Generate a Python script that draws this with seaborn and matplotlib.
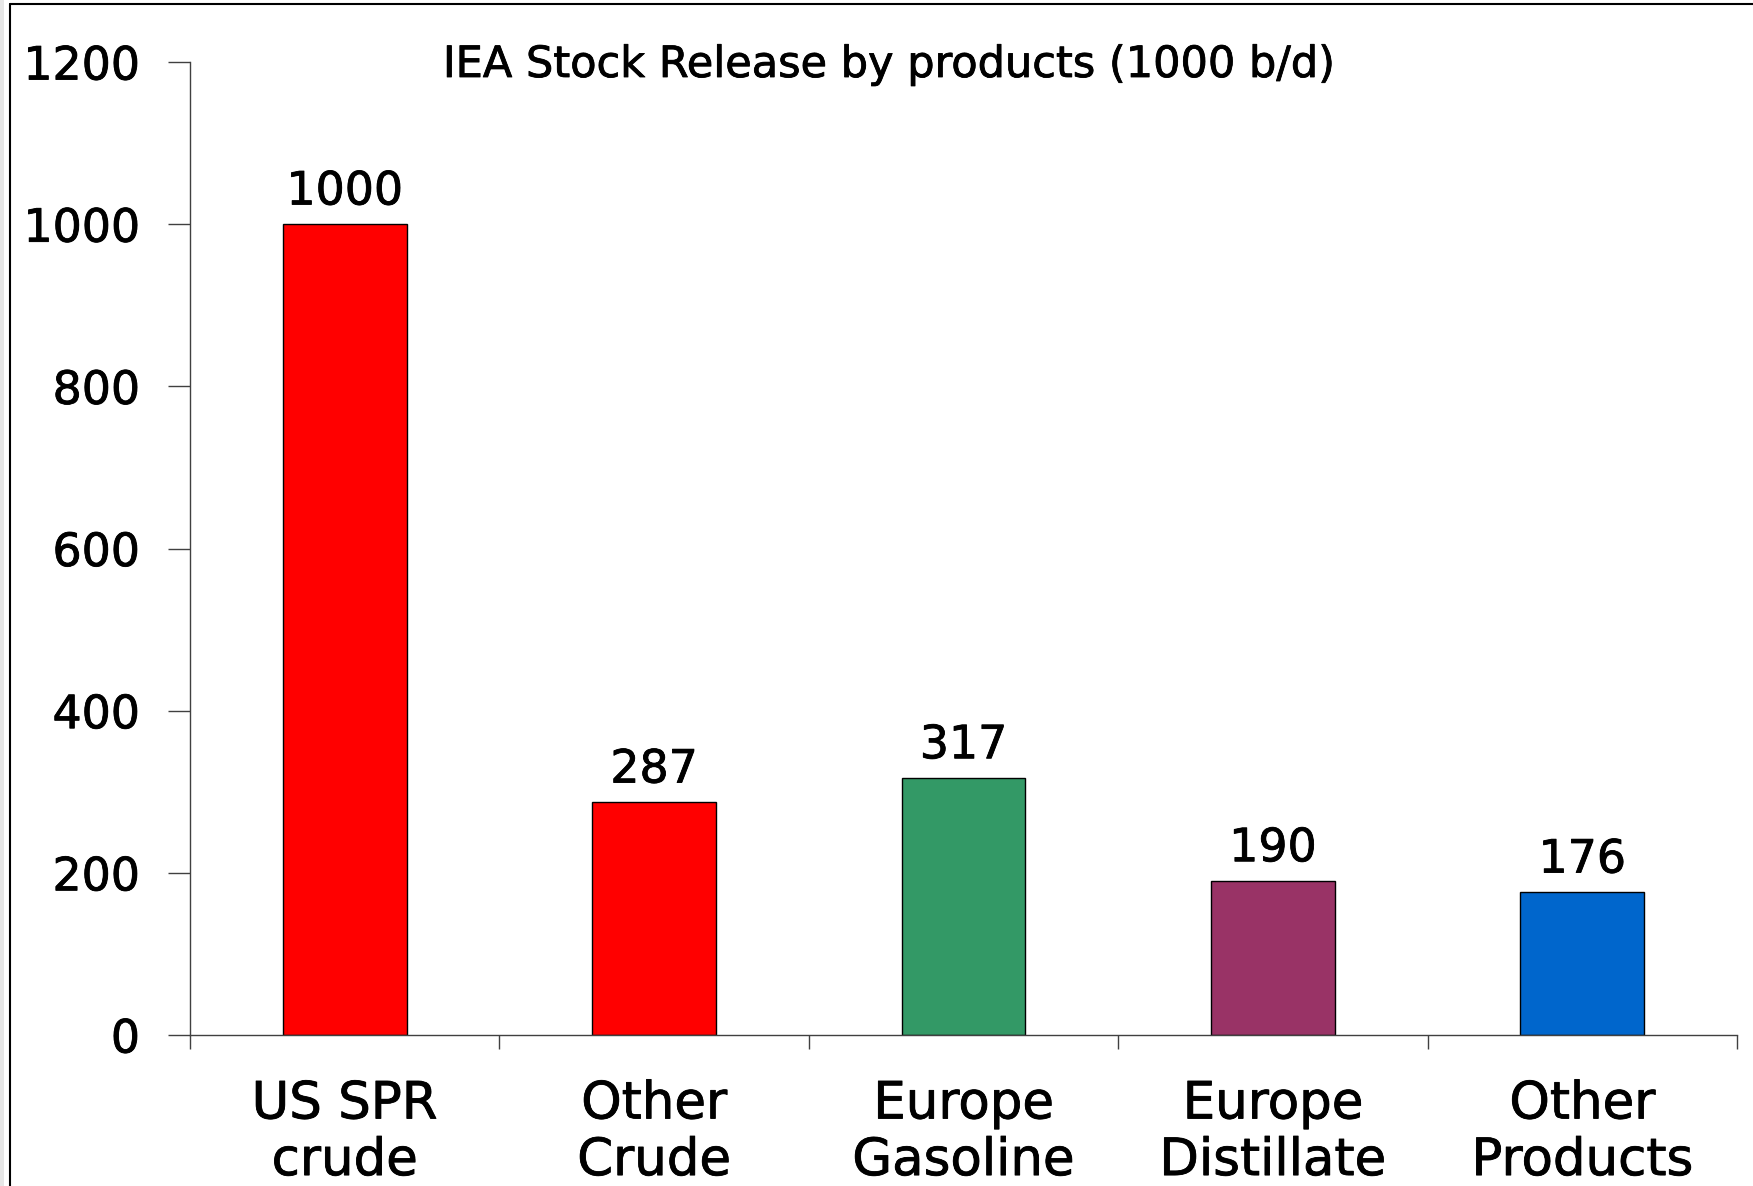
import matplotlib
matplotlib.use("Agg")
import matplotlib.pyplot as plt
import matplotlib.patheffects as pe
import seaborn as sns
import pandas as pd
from matplotlib.lines import Line2D
from matplotlib.patches import Rectangle

# data
products = ["US SPR\ncrude", "Other\nCrude", "Europe\nGasoline", "Europe\nDistillate", "Other\nProducts"]
release = [1000, 287, 317, 190, 176]
bar_colors = ["#FF0000", "#FF0000", "#339966", "#993366", "#0066CC"]
yticks = [0, 200, 400, 600, 800, 1000, 1200]

df = pd.DataFrame({"product": products, "release": release})

sns.set_style("white")
plt.rcParams["font.family"] = ["DejaVu Sans"]
plt.rcParams["text.color"] = "black"
plt.rcParams["xtick.labelcolor"] = "black"
plt.rcParams["ytick.labelcolor"] = "black"

# slightly heavier text, like the original
thick = [pe.withStroke(linewidth=0.6, foreground="black")]

W, H = 1753, 1186
fig = plt.figure(figsize=(W / 100, H / 100), dpi=100)
ax = fig.add_axes([190 / W, 1 - 1035 / H, (1737 - 190) / W, (1035 - 62) / H])

sns.barplot(data=df, x="product", y="release", hue="product", palette=bar_colors,
            legend=False, width=0.40, edgecolor="black", linewidth=1.0, ax=ax, saturation=1)

for c in ax.containers:
    for t in ax.bar_label(c, fontsize=33, padding=7, color="black"):
        t.set_path_effects(thick)

ax.set_xlim(-0.5, 4.5)
ax.set_ylim(0, 1200)
ax.set_yticks(yticks)
ax.set_yticklabels([str(v) for v in yticks], fontsize=33)
ax.tick_params(axis="y", length=16, width=1, color="#404040", pad=20, left=True,
               direction="out", labelcolor="black")

# category labels at centres, tick marks at category boundaries
ax.set_xticks(range(len(products)))
ax.set_xticklabels(products, fontsize=37, linespacing=1.17)
ax.tick_params(axis="x", which="major", length=0, pad=32, labelcolor="black")
ax.set_xticks([i - 0.5 for i in range(len(products) + 1)], minor=True)
ax.tick_params(axis="x", which="minor", length=10, width=1, color="#404040", bottom=True, direction="out")

for t in ax.get_xticklabels() + ax.get_yticklabels():
    t.set_path_effects(thick)

ax.set_xlabel("")
ax.set_ylabel("")
sns.despine(ax=ax)
for side in ["left", "bottom"]:
    ax.spines[side].set_color("#404040")
    ax.spines[side].set_linewidth(1)

fig.text(888 / W, 1 - 77 / H, "IEA Stock Release by products (1000 b/d)",
         ha="center", va="baseline", fontsize=31, color="black", path_effects=thick)

# frame of the original slide
fig.add_artist(Rectangle((0, 0), 4 / W, 1, transform=fig.transFigure, color="#e6e6e6", lw=0))
fig.add_artist(Line2D([10 / W, 10 / W], [0, 1 - 4 / H], color="black", linewidth=1.5))
fig.add_artist(Line2D([10 / W, 1], [1 - 4 / H, 1 - 4 / H], color="black", linewidth=1.5))

fig.savefig("out.png", dpi=100)
